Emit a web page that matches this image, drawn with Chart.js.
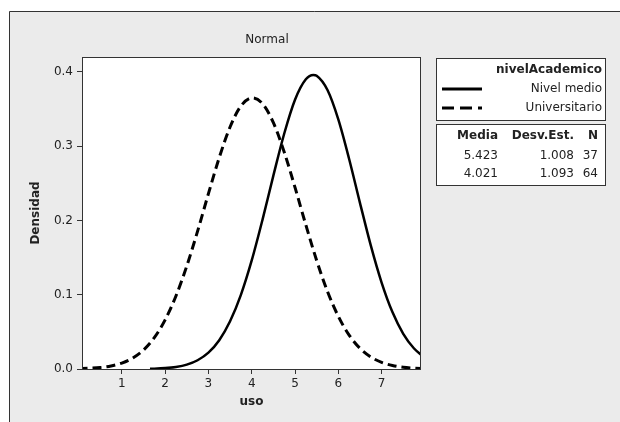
<!DOCTYPE html>
<html><head><meta charset="utf-8">
<script src="https://cdn.jsdelivr.net/npm/chart.js@4"></script>
<style>html,body{margin:0;padding:0;background:#fff}canvas{display:block}</style>
</head><body>
<canvas id="c" width="620" height="422"></canvas>
<script>
const chartTitle = 'Normal';
const xTitle = 'uso';
const yTitle = 'Densidad';
const legendTitle = 'nivelAcademico';
const groups = ['Nivel medio', 'Universitario'];
const statHeaders = ['Media', 'Desv.Est.', 'N'];
const means = ['5.423', '4.021'];
const stdevs = ['1.008', '1.093'];
const counts = ['37', '64'];

const xTickValues = [1, 2, 3, 4, 5, 6, 7];
const yTickValues = [0.0, 0.1, 0.2, 0.3, 0.4];

const medioX = [1.65, 1.75, 2, 2.25, 2.5, 2.75, 3, 3.25, 3.5, 3.75, 4, 4.25, 4.5, 4.75, 5, 5.25, 5.423, 5.5, 5.75, 6, 6.25, 6.5, 6.75, 7, 7.25, 7.5, 7.75, 8];
const medioY = [0.0004, 0.0005, 0.0012, 0.0028, 0.0059, 0.0118, 0.0220, 0.0388, 0.0642, 0.0998, 0.1461, 0.2011, 0.2603, 0.3167, 0.3625, 0.3900, 0.3958, 0.3947, 0.3755, 0.3360, 0.2827, 0.2237, 0.1664, 0.1164, 0.0766, 0.0474, 0.0276, 0.0151];

const univX = [0, 0.25, 0.5, 0.75, 1, 1.25, 1.5, 1.75, 2, 2.25, 2.5, 2.75, 3, 3.25, 3.5, 3.75, 4.021, 4.25, 4.5, 4.75, 5, 5.25, 5.5, 5.75, 6, 6.25, 6.5, 6.75, 7, 7.25, 7.5, 7.75, 8];
const univY = [0.0004, 0.0010, 0.0020, 0.0041, 0.0080, 0.0147, 0.0255, 0.0422, 0.0661, 0.0982, 0.1386, 0.1856, 0.2360, 0.2846, 0.3258, 0.3540, 0.3650, 0.3571, 0.3316, 0.2922, 0.2444, 0.1940, 0.1461, 0.1044, 0.0709, 0.0456, 0.0279, 0.0162, 0.0089, 0.0047, 0.0023, 0.0011, 0.0005];

const FONT = '"DejaVu Sans", sans-serif';
const TXT = '#222';
const EDGE = '#333';

const toPts = (xs, ys) => xs.map((x, i) => ({x: x, y: ys[i]}));

const decor = {
  id: 'decor',
  beforeDraw(chart) {
    const ctx = chart.ctx, a = chart.chartArea, W = chart.width, H = chart.height;
    ctx.save();
    ctx.fillStyle = '#fff'; ctx.fillRect(0, 0, W, H);
    ctx.fillStyle = '#ebebeb'; ctx.fillRect(9, 11, W - 9, H - 11);
    ctx.strokeStyle = EDGE; ctx.lineWidth = 1;
    ctx.beginPath(); ctx.moveTo(9.5, H); ctx.lineTo(9.5, 11.5); ctx.lineTo(W, 11.5); ctx.stroke();
    ctx.fillStyle = '#fff'; ctx.fillRect(a.left, a.top, a.right - a.left, a.bottom - a.top);
    ctx.restore();
  },
  afterDraw(chart) {
    const ctx = chart.ctx, a = chart.chartArea;
    ctx.save();
    ctx.strokeStyle = EDGE; ctx.lineWidth = 1;
    ctx.strokeRect(a.left + 0.5, a.top + 0.5, a.right - a.left - 1, a.bottom - a.top);
    // title
    ctx.fillStyle = TXT; ctx.font = '12px ' + FONT;
    ctx.textAlign = 'center'; ctx.textBaseline = 'middle';
    ctx.fillText(chartTitle, 267, 40);
    // legend box
    ctx.fillStyle = '#fff';
    ctx.fillRect(436, 58, 169, 62);
    ctx.fillRect(436, 124, 169, 61);
    ctx.strokeRect(436.5, 58.5, 169, 62);
    ctx.strokeRect(436.5, 124.5, 169, 61);
    ctx.fillStyle = TXT; ctx.textAlign = 'right';
    ctx.font = 'bold 12px ' + FONT;
    ctx.fillText(legendTitle, 602, 70);
    ctx.font = '12px ' + FONT;
    ctx.fillText(groups[0], 602, 89);
    ctx.fillText(groups[1], 602, 108);
    ctx.strokeStyle = '#000'; ctx.lineWidth = 3;
    ctx.beginPath(); ctx.moveTo(442, 89); ctx.lineTo(482, 89); ctx.stroke();
    ctx.setLineDash([12, 6]);
    ctx.beginPath(); ctx.moveTo(442, 108); ctx.lineTo(482, 108); ctx.stroke();
    ctx.setLineDash([]);
    // stats
    const cols = [498, 574, 598];
    ctx.font = 'bold 12px ' + FONT;
    statHeaders.forEach((h, i) => ctx.fillText(h, cols[i], 136));
    ctx.font = '12px ' + FONT;
    [0, 1].forEach(r => {
      const y = 156 + r * 18;
      ctx.fillText(means[r], cols[0], y);
      ctx.fillText(stdevs[r], cols[1], y);
      ctx.fillText(counts[r], cols[2], y);
    });
    ctx.restore();
  }
};

new Chart(document.getElementById('c'), {
  type: 'line',
  data: {
    datasets: [
      {label: groups[0], data: toPts(medioX, medioY), borderColor: '#000', borderWidth: 2.5,
       pointRadius: 0, cubicInterpolationMode: 'monotone', clip: 0, fill: false},
      {label: groups[1], data: toPts(univX, univY), borderColor: '#000', borderWidth: 3,
       borderDash: [9, 5], pointRadius: 0, cubicInterpolationMode: 'monotone', clip: 0, fill: false}
    ]
  },
  options: {
    responsive: false, animation: false, devicePixelRatio: 1,
    layout: {padding: {left: 0, top: 57, right: 199, bottom: 0}},
    plugins: {legend: {display: false}, title: {display: false}, tooltip: {enabled: false}},
    scales: {
      x: {
        type: 'linear', min: 0.08, max: 7.91,
        afterFit(s) { s.height = 53; },
        afterBuildTicks(s) { s.ticks = xTickValues.map(v => ({value: v})); },
        ticks: {font: {family: FONT, size: 12}, color: TXT, padding: 3, maxRotation: 0,
                callback: v => String(v)},
        grid: {display: true, drawOnChartArea: false, drawTicks: true, tickLength: 5, color: EDGE},
        border: {display: false},
        title: {display: true, text: xTitle, color: TXT, font: {family: FONT, size: 12, weight: 'bold'},
                padding: {top: 0, bottom: 13}}
      },
      y: {
        type: 'linear', min: 0, max: 0.42,
        afterFit(s) { s.width = 82; },
        afterBuildTicks(s) { s.ticks = yTickValues.map(v => ({value: v})); },
        ticks: {font: {family: FONT, size: 12}, color: TXT, padding: 4,
                callback: v => v.toFixed(1)},
        grid: {display: true, drawOnChartArea: false, drawTicks: true, tickLength: 5, color: EDGE},
        border: {display: false},
        title: {display: true, text: yTitle, color: TXT, font: {family: FONT, size: 12, weight: 'bold'},
                padding: {top: 29, bottom: 0}}
      }
    }
  },
  plugins: [decor]
});
</script>
</body></html>
